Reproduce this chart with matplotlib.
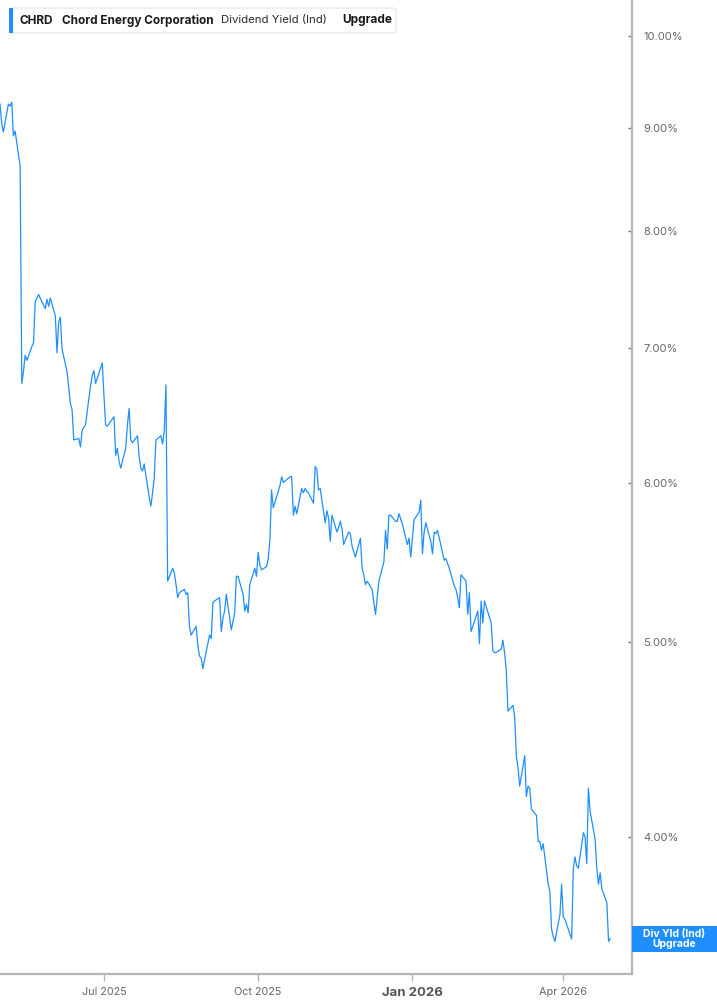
import numpy as np
import pandas as pd
import matplotlib
matplotlib.use('Agg')
import matplotlib.pyplot as plt
import matplotlib.dates as mdates
from matplotlib.ticker import FixedLocator, NullLocator
from matplotlib.patches import FancyBboxPatch, Rectangle

plt.rcParams['font.family'] = ['Inter', 'DejaVu Sans']

# header texts
ticker = 'CHRD'
company = 'Chord Energy Corporation'
metric = 'Dividend Yield (Ind)'
upgrade = 'Upgrade'
end_label = 'Div Yld (Ind)\nUpgrade'

# trading days
start_date = '2025-04-30'
market_holidays = ['2025-05-26', '2025-06-19', '2025-07-04', '2025-09-01', '2025-11-27',
                   '2025-12-25', '2026-01-01', '2026-01-19', '2026-02-16', '2026-04-03']

# dividend yield (%), one value per trading day
div_yield = [
    9.25, 9.05, 8.96, 9.25, 9.23, 9.27, 8.92, 8.97, 8.62, 6.72,
    6.81, 6.94, 6.90, 7.01, 7.04, 7.38, 7.41, 7.44, 7.32, 7.40,
    7.34, 7.41, 7.26, 6.96, 7.21, 7.25, 6.99, 6.81, 6.69, 6.57,
    6.52, 6.30, 6.31, 6.25, 6.37, 6.41, 6.70, 6.78, 6.82, 6.72,
    6.76, 6.88, 6.63, 6.41, 6.40, 6.47, 6.19, 6.24, 6.15, 6.10,
    6.24, 6.41, 6.53, 6.30, 6.28, 6.33, 6.18, 6.10, 6.08, 6.13,
    5.90, 5.84, 5.93, 6.03, 6.30, 6.33, 6.27, 6.37, 6.71, 5.36,
    5.44, 5.41, 5.34, 5.26, 5.29, 5.31, 5.28, 5.29, 5.09, 5.04,
    5.09, 4.98, 4.92, 4.91, 4.85, 5.04, 5.02, 5.23, 5.24, 5.26,
    5.06, 5.14, 5.18, 5.28, 5.07, 5.12, 5.17, 5.39, 5.39, 5.28,
    5.18, 5.22, 5.17, 5.34, 5.44, 5.39, 5.54, 5.46, 5.43, 5.45,
    5.50, 5.62, 5.95, 5.83, 5.94, 5.98, 6.04, 6.00, 6.01, 6.04,
    6.04, 5.78, 5.84, 5.79, 5.96, 5.93, 5.96, 5.94, 5.93, 5.86,
    6.11, 6.09, 5.95, 5.96, 5.73, 5.81, 5.76, 5.61, 5.78, 5.67,
    5.70, 5.74, 5.69, 5.59, 5.67, 5.66, 5.58, 5.51, 5.63, 5.44,
    5.40, 5.34, 5.36, 5.31, 5.23, 5.16, 5.26, 5.36, 5.48, 5.68,
    5.56, 5.78, 5.78, 5.74, 5.74, 5.79, 5.72, 5.59, 5.63, 5.51,
    5.75, 5.80, 5.88, 5.53, 5.67, 5.73, 5.61, 5.53, 5.67, 5.66,
    5.68, 5.49, 5.50, 5.47, 5.44, 5.33, 5.31, 5.26, 5.20, 5.40,
    5.36, 5.16, 5.29, 5.06, 5.09, 5.18, 4.99, 5.24, 5.11, 5.24,
    5.11, 4.95, 4.94, 4.94, 4.96, 5.01, 4.94, 4.84, 4.62, 4.65,
    4.59, 4.39, 4.33, 4.24, 4.39, 4.19, 4.24, 4.23, 4.13, 4.10,
    3.98, 3.98, 3.94, 3.97, 3.79, 3.76, 3.60, 3.57, 3.55, 3.66,
    3.79, 3.65, 3.64, 3.56, 3.86, 3.91, 3.87, 3.86, 4.02, 4.00,
    3.88, 4.23, 4.12, 3.99, 3.86, 3.79, 3.84, 3.77, 3.71, 3.55,
    3.56,
]

y_ticks = [4, 5, 6, 7, 8, 9, 10]
x_ticks = ['2025-07-01', '2025-10-01', '2026-01-01', '2026-04-01']
x_labels = ['Jul 2025', 'Oct 2025', 'Jan 2026', 'Apr 2026']
x_range = ['2025-04-30', '2026-05-12']
y_range = [3.42, 10.42]

blue = '#1f8ffd'
axis_grey = '#b5b5b5'

dates = pd.bdate_range(start_date, periods=len(div_yield), freq='C', holidays=market_holidays)

W, H = 717, 1005
fig = plt.figure(figsize=(W / 100, H / 100), dpi=100)
ax = fig.add_axes([0, 1 - 974 / H, 632 / W, 974 / H])

ax.plot(dates, div_yield, color=blue, lw=0.9)

ax.set_yscale('log')
ax.set_ylim(*y_range)
ax.set_xlim(pd.Timestamp(x_range[0]), pd.Timestamp(x_range[1]))

ax.yaxis.tick_right()
ax.yaxis.set_major_locator(FixedLocator(y_ticks))
ax.yaxis.set_minor_locator(NullLocator())
ax.set_yticklabels([f'{t:.2f}%' for t in y_ticks])
ax.tick_params(axis='y', direction='in', length=3, width=1, color='#777777',
               labelsize=8, labelcolor='#666666', pad=8)

ax.set_xticks(pd.to_datetime(x_ticks))
ax.set_xticklabels(x_labels)
ax.xaxis.set_minor_locator(NullLocator())
ax.tick_params(axis='x', direction='out', length=5, width=1, color=axis_grey,
               labelsize=7.8, labelcolor='#666666', pad=4)
for lbl in ax.get_xticklabels():
    if lbl.get_text().startswith('Jan'):
        lbl.set_fontweight('bold')
        lbl.set_fontsize(9.5)
        lbl.set_color('#555555')

for s in ['left', 'top']:
    ax.spines[s].set_visible(False)
for s in ['right', 'bottom']:
    ax.spines[s].set_color(axis_grey)
    ax.spines[s].set_linewidth(1.6)

# header box
def fx(px):
    return px / W

def fy(py):
    return 1 - py / H

hdr = FancyBboxPatch((fx(10), fy(33)), fx(386), 25 / H,
                     boxstyle='round,pad=0,rounding_size=0.004',
                     transform=fig.transFigure, facecolor='white',
                     edgecolor='#e4e4e4', linewidth=0.8)
fig.add_artist(hdr)
fig.add_artist(Rectangle((fx(9), fy(33)), fx(4), 25 / H, transform=fig.transFigure,
                         facecolor=blue, edgecolor='none'))
hy = fy(20.5)
fig.text(fx(20), hy, ticker, fontsize=8.5, fontweight='bold', color='#1a1a1a', va='center')
fig.text(fx(62), hy, company, fontsize=8.5, fontweight='bold', color='#1a1a1a', va='center')
fig.text(fx(221), hy, metric, fontsize=8.2, color='#2a2a2a', va='center')
fig.text(fx(342), hy, upgrade, fontsize=8.5, fontweight='bold', color='#1a1a1a', va='center')

# end-of-line label box anchored at the last value
fig.canvas.draw()
last_y = ax.transData.transform((mdates.date2num(dates[-1]), div_yield[-1]))[1]
box_h = 26
fig.add_artist(Rectangle((632 / W, (last_y - box_h / 2) / H), 85 / W, box_h / H,
                         transform=fig.transFigure, facecolor=blue, edgecolor='none'))
fig.text(674.5 / W, last_y / H, end_label, fontsize=7.5, fontweight='bold',
         color='white', ha='center', va='center', linespacing=1.0)

fig.savefig('out.png', dpi=100)
